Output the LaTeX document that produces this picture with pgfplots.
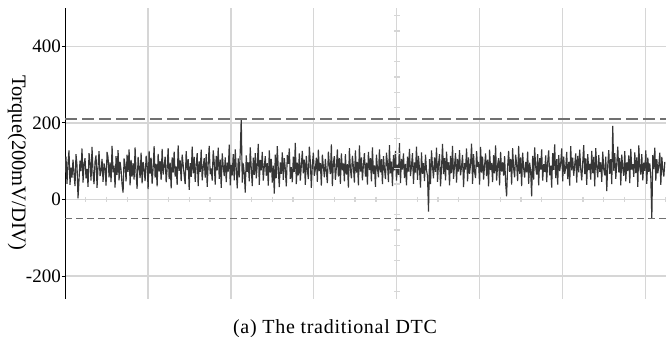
\documentclass[border=0pt]{standalone}
\usepackage{pgfplots}
\pgfplotsset{compat=1.18}
\usepackage{pgfplotstable}
\usepackage{fontspec}
\setmainfont{Liberation Serif}
\definecolor{gridc}{HTML}{D6D6D6}
\definecolor{tracec}{HTML}{363636}
\definecolor{dashc}{HTML}{707070}
\pgfplotstableread[row sep=\\, header=false]{
70\\112\\41\\95\\128\\38\\83\\57\\104\\66\\35\\118\\89\\3\\52\\101\\74\\133\\44\\92\\
108\\55\\80\\33\\121\\96\\49\\137\\69\\40\\99\\115\\30\\85\\126\\61\\73\\106\\46\\94\\
81\\36\\124\\110\\58\\97\\45\\140\\71\\88\\31\\113\\64\\129\\50\\98\\77\\39\\18\\107\\
90\\47\\117\\72\\131\\37\\103\\60\\95\\52\\136\\68\\28\\111\\84\\56\\122\\42\\98\\79\\
48\\114\\91\\27\\127\\67\\109\\41\\82\\139\\57\\93\\34\\119\\73\\100\\51\\132\\65\\87\\
112\\45\\80\\134\\53\\96\\29\\110\\70\\125\\60\\86\\38\\141\\75\\102\\48\\117\\91\\64\\
40\\126\\77\\105\\25\\95\\59\\138\\68\\111\\46\\88\\121\\35\\99\\72\\130\\50\\84\\108\\
57\\118\\33\\93\\140\\66\\81\\49\\128\\97\\39\\114\\76\\135\\54\\104\\30\\120\\87\\61\\
110\\45\\96\\73\\143\\37\\90\\63\\118\\50\\131\\80\\29\\107\\58\\125\\212\\44\\94\\69\\
18\\115\\72\\97\\47\\136\\81\\35\\109\\64\\121\\55\\91\\145\\38\\103\\76\\124\\49\\86\\
113\\62\\95\\36\\128\\70\\106\\44\\88\\15\\117\\56\\139\\78\\32\\97\\67\\123\\51\\108\\
80\\34\\116\\93\\133\\54\\84\\45\\112\\72\\148\\40\\96\\63\\120\\49\\89\\127\\68\\104\\
38\\114\\77\\53\\138\\98\\30\\90\\122\\62\\79\\109\\46\\130\\74\\95\\36\\117\\86\\58\\
106\\72\\43\\125\\89\\66\\144\\35\\97\\113\\51\\83\\131\\60\\108\\41\\120\\76\\94\\47\\
118\\65\\92\\31\\134\\79\\55\\114\\86\\44\\128\\70\\98\\37\\141\\73\\110\\50\\90\\121\\
60\\96\\39\\124\\77\\108\\47\\136\\66\\89\\33\\117\\82\\58\\131\\71\\105\\40\\113\\80\\
53\\122\\94\\45\\142\\68\\99\\35\\116\\76\\127\\49\\91\\64\\147\\43\\106\\78\\120\\56\\
93\\37\\112\\73\\132\\61\\87\\121\\41\\97\\70\\138\\51\\114\\79\\31\\123\\67\\95\\48\\
117\\76\\62\\-32\\105\\40\\128\\86\\55\\110\\72\\135\\46\\93\\118\\34\\83\\145\\66\\108\\
50\\125\\77\\97\\37\\114\\69\\140\\54\\90\\121\\44\\106\\73\\129\\63\\86\\116\\32\\95\\
78\\133\\47\\110\\67\\92\\146\\41\\118\\72\\56\\126\\85\\98\\39\\137\\70\\112\\52\\89\\
120\\61\\104\\34\\130\\77\\95\\45\\116\\68\\141\\49\\90\\108\\37\\124\\73\\97\\62\\113\\
43\\8\\86\\127\\72\\106\\39\\134\\80\\58\\117\\93\\48\\140\\67\\110\\35\\122\\82\\57\\
98\\71\\125\\41\\96\\75\\8\\114\\52\\136\\85\\65\\118\\37\\108\\78\\131\\49\\92\\72\\
115\\45\\97\\128\\63\\88\\31\\121\\77\\144\\56\\105\\39\\116\\74\\94\\133\\47\\112\\67\\
82\\124\\53\\98\\36\\139\\76\\109\\62\\90\\120\\44\\114\\71\\130\\80\\50\\96\\142\\66\\
107\\38\\118\\77\\93\\52\\127\\69\\111\\34\\134\\85\\58\\116\\72\\97\\46\\125\\79\\63\\
112\\22\\89\\129\\67\\105\\40\\192\\75\\121\\54\\93\\138\\71\\108\\37\\117\\81\\62\\126\\
47\\97\\74\\115\\43\\132\\78\\92\\59\\123\\69\\110\\33\\141\\84\\65\\118\\50\\96\\75\\
128\\41\\109\\72\\94\\56\\-50\\116\\79\\135\\49\\105\\68\\90\\122\\38\\111\\77\\60\\98\\
}\trace
\begin{document}
\begin{tikzpicture}
\begin{axis}[
  width=601pt, height=291pt, scale only axis,
  xmin=0, xmax=7.25, ymin=-260, ymax=500,
  axis y line*=left, axis x line*=bottom,
  x axis line style={draw=none},
  y axis line style={black, line width=0.8pt, -},
  xtick={1,2,3,4,5,6,7}, xticklabels={},
  xtick style={draw=none},
  ytick={-200,0,200,400}, yticklabels={-200,0,200,400},
  ytick style={black, line width=0.8pt},
  tick align=outside, major tick length=3pt,
  grid=major, grid style={gridc, line width=1.5pt},
  font=\fontsize{19}{23}\selectfont,
  yticklabel style={inner sep=1pt},
  clip=true,
]
% minor graticule ticks on the zero line and the centre line
\addplot[only marks, mark=|, mark size=2.6pt, gridc, mark options={line width=1.3pt}] coordinates {
(0.25,0)(0.5,0)(0.75,0)(1.25,0)(1.5,0)(1.75,0)(2.25,0)(2.5,0)(2.75,0)
(3.25,0)(3.5,0)(3.75,0)(4.25,0)(4.5,0)(4.75,0)(5.25,0)(5.5,0)(5.75,0)
(6.25,0)(6.5,0)(6.75,0)(7.25,0)};
\addplot[only marks, mark=-, mark size=3pt, gridc, mark options={line width=1.3pt}] coordinates {
(4,-240)(4,-160)(4,-120)(4,-80)(4,-40)(4,40)(4,80)(4,120)(4,160)
(4,240)(4,280)(4,320)(4,360)(4,440)(4,480)};
\addplot[tracec, line width=1.15pt, line join=bevel] table[x expr=\coordindex*0.01208, y index=0] {\trace};
\addplot[dashc, line width=1.3pt, dash pattern=on 12pt off 5pt] coordinates {(0,210) (7.25,210)};
\addplot[dashc, line width=1.3pt, dash pattern=on 7pt off 4pt] coordinates {(0,-50) (7.25,-50)};
\end{axis}
\node[anchor=base, font=\fontsize{20}{24}\selectfont\addfontfeatures{LetterSpace=3.5}] at ([shift={(270pt,-34pt)}]current axis.south west) {(a) The traditional DTC};
\node[rotate=-90, anchor=center, font=\fontsize{20.5}{24}\selectfont] at ([shift={(-48pt,136pt)}]current axis.south west) {Torque(200mV/DIV)};
\pgfresetboundingbox
\path[use as bounding box] (current axis.south west) ++(-65pt,-38pt) rectangle ++(666pt,337pt);
\end{tikzpicture}
\end{document}
